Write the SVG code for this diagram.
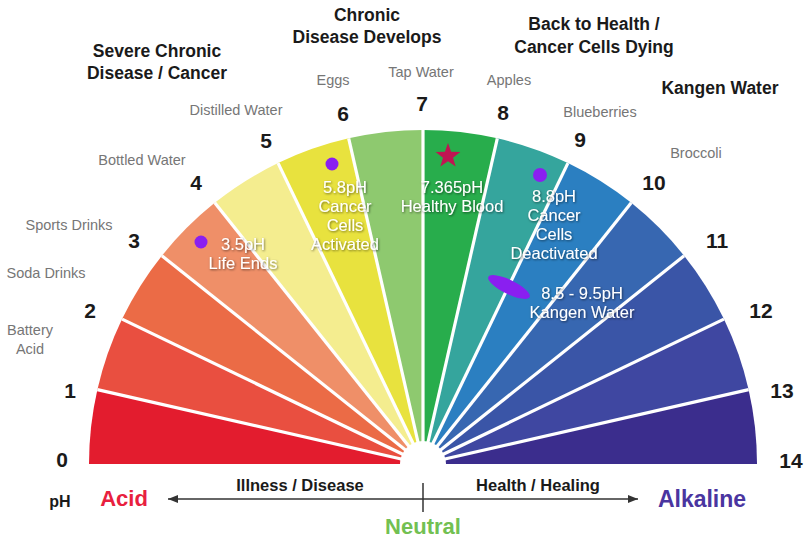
<svg xmlns="http://www.w3.org/2000/svg" width="805" height="540" viewBox="0 0 805 540">
<defs>
<style>
.num{font-family:"Liberation Sans",Arial,sans-serif;font-weight:bold;font-size:21px;fill:#1a1a1a;text-anchor:middle}
.food{font-family:"Liberation Sans",Arial,sans-serif;font-size:14.5px;fill:#767676;text-anchor:middle}
.head{font-family:"Liberation Sans",Arial,sans-serif;font-weight:bold;font-size:17.5px;fill:#1a1a1a;text-anchor:middle}
.in{font-family:"Liberation Sans",Arial,sans-serif;font-size:16.5px;fill:#ffffff;text-anchor:middle;filter:url(#sh)}
.sep{stroke:#ffffff;stroke-width:3.2}
.dot{fill:#8a1ff0}
.axis{font-family:"Liberation Sans",Arial,sans-serif;font-weight:bold;text-anchor:middle}
</style>
<filter id="sh" x="-20%" y="-40%" width="140%" height="180%">
<feDropShadow dx="0.8" dy="1" stdDeviation="0.9" flood-color="#000" flood-opacity="0.55"/>
</filter>
<marker id="ah" viewBox="0 0 10 8" refX="10" refY="4" markerWidth="10" markerHeight="8" markerUnits="userSpaceOnUse" orient="auto-start-reverse">
<path d="M0,0 L10,4 L0,8 Z" fill="#333"/>
</marker>
</defs>
<rect width="805" height="540" fill="#ffffff"/>

<g id="segments">
<path id="seg0" d="M423,464 L89,464 A334,334 0 0 1 97.37,389.68 Z" fill="#e31c2e"/>
<path id="seg1" d="M423,464 L97.37,389.68 A334,334 0 0 1 122.08,319.08 Z" fill="#e94f40"/>
<path id="seg2" d="M423,464 L122.08,319.08 A334,334 0 0 1 161.87,255.75 Z" fill="#eb6b46"/>
<path id="seg3" d="M423,464 L161.87,255.75 A334,334 0 0 1 214.75,202.87 Z" fill="#ef8f68"/>
<path id="seg4" d="M423,464 L214.75,202.87 A334,334 0 0 1 278.08,163.08 Z" fill="#f4ed8f"/>
<path id="seg5" d="M423,464 L278.08,163.08 A334,334 0 0 1 348.68,138.37 Z" fill="#e8e23e"/>
<path id="seg6" d="M423,464 L348.68,138.37 A334,334 0 0 1 423,130 Z" fill="#8ec96f"/>
<path id="seg7" d="M423,464 L423,130 A334,334 0 0 1 497.32,138.37 Z" fill="#28ad4c"/>
<path id="seg8" d="M423,464 L497.32,138.37 A334,334 0 0 1 567.92,163.08 Z" fill="#35a59d"/>
<path id="seg9" d="M423,464 L567.92,163.08 A334,334 0 0 1 631.25,202.87 Z" fill="#2b7fc1"/>
<path id="seg10" d="M423,464 L631.25,202.87 A334,334 0 0 1 684.13,255.75 Z" fill="#3767b1"/>
<path id="seg11" d="M423,464 L684.13,255.75 A334,334 0 0 1 723.92,319.08 Z" fill="#3a55a7"/>
<path id="seg12" d="M423,464 L723.92,319.08 A334,334 0 0 1 748.63,389.68 Z" fill="#3f47a1"/>
<path id="seg13" d="M423,464 L748.63,389.68 A334,334 0 0 1 757,464 Z" fill="#3b2d8d"/>
</g>

<g id="separators">
<line class="sep" x1="423" y1="464" x2="97.37" y2="389.68"/>
<line class="sep" x1="423" y1="464" x2="122.08" y2="319.08"/>
<line class="sep" x1="423" y1="464" x2="161.87" y2="255.75"/>
<line class="sep" x1="423" y1="464" x2="214.75" y2="202.87"/>
<line class="sep" x1="423" y1="464" x2="278.08" y2="163.08"/>
<line class="sep" x1="423" y1="464" x2="348.68" y2="138.37"/>
<line class="sep" x1="423" y1="464" x2="423" y2="130"/>
<line class="sep" x1="423" y1="464" x2="497.32" y2="138.37"/>
<line class="sep" x1="423" y1="464" x2="567.92" y2="163.08"/>
<line class="sep" x1="423" y1="464" x2="631.25" y2="202.87"/>
<line class="sep" x1="423" y1="464" x2="684.13" y2="255.75"/>
<line class="sep" x1="423" y1="464" x2="723.92" y2="319.08"/>
<line class="sep" x1="423" y1="464" x2="748.63" y2="389.68"/>
<circle cx="423" cy="464" r="23" fill="#ffffff"/>
<rect x="80" y="465" width="690" height="4" fill="#ffffff"/>
</g>

<g id="numbers">
<text class="num" x="62" y="467">0</text>
<text class="num" x="70" y="398">1</text>
<text class="num" x="90" y="318">2</text>
<text class="num" x="134" y="248">3</text>
<text class="num" x="196" y="190">4</text>
<text class="num" x="266" y="148">5</text>
<text class="num" x="343" y="121">6</text>
<text class="num" x="422" y="111">7</text>
<text class="num" x="503" y="120">8</text>
<text class="num" x="580" y="147">9</text>
<text class="num" x="654" y="190">10</text>
<text class="num" x="717" y="248">11</text>
<text class="num" x="761" y="318">12</text>
<text class="num" x="782" y="398">13</text>
<text class="num" x="791" y="468">14</text>
</g>

<g id="foods">
<text class="food" x="30" y="335">Battery</text>
<text class="food" x="30" y="354">Acid</text>
<text class="food" x="46" y="278">Soda Drinks</text>
<text class="food" x="69" y="230">Sports Drinks</text>
<text class="food" x="142" y="165">Bottled Water</text>
<text class="food" x="236" y="115">Distilled Water</text>
<text class="food" x="333" y="85">Eggs</text>
<text class="food" x="421" y="77">Tap Water</text>
<text class="food" x="509" y="85">Apples</text>
<text class="food" x="600" y="117">Blueberries</text>
<text class="food" x="696" y="158">Broccoli</text>
</g>

<g id="headings">
<text class="head" x="157" y="57">Severe Chronic</text>
<text class="head" x="157" y="79">Disease / Cancer</text>
<text class="head" x="367" y="21">Chronic</text>
<text class="head" x="367" y="43">Disease Develops</text>
<text class="head" x="594" y="30">Back to Health /</text>
<text class="head" x="594" y="53">Cancer Cells Dying</text>
<text class="head" x="720" y="94">Kangen Water</text>
</g>

<g id="annotations">
<circle class="dot" cx="201" cy="242" r="6.5"/>
<text class="in" x="243" y="250">3.5pH</text>
<text class="in" x="243" y="269">Life Ends</text>

<circle class="dot" cx="332" cy="164" r="6.5"/>
<text class="in" x="345" y="193">5.8pH</text>
<text class="in" x="345" y="212">Cancer</text>
<text class="in" x="345" y="231">Cells</text>
<text class="in" x="345" y="250">Activated</text>

<path d="M448,143 L451.12,151.71 L460.36,151.98 L453.04,157.64 L455.64,166.52 L448,161.3 L440.36,166.52 L442.96,157.64 L435.64,151.98 L444.88,151.71 Z" fill="#c01552"/>
<text class="in" x="452" y="193">7.365pH</text>
<text class="in" x="452" y="212">Healthy Blood</text>

<circle class="dot" cx="540" cy="175" r="7"/>
<text class="in" x="554" y="202">8.8pH</text>
<text class="in" x="554" y="221">Cancer</text>
<text class="in" x="554" y="240">Cells</text>
<text class="in" x="554" y="259">Deactivated</text>

<ellipse class="dot" cx="509" cy="287" rx="23" ry="7" transform="rotate(26 509 287)"/>
<text class="in" x="582" y="299">8.5 - 9.5pH</text>
<text class="in" x="582" y="318">Kangen Water</text>
</g>

<g id="axis">
<line x1="168" y1="499" x2="638" y2="499" stroke="#333" stroke-width="1.5" marker-start="url(#ah)" marker-end="url(#ah)"/>
<line x1="423" y1="483" x2="423" y2="512" stroke="#333" stroke-width="1.5"/>
<text class="axis" x="60" y="507" font-size="16" fill="#1a1a1a">pH</text>
<text class="axis" x="124" y="506" font-size="22" fill="#e8203e">Acid</text>
<text class="axis" x="300" y="491" font-size="16.5" fill="#1a1a1a">Illness / Disease</text>
<text class="axis" x="538" y="491" font-size="16.5" fill="#1a1a1a">Health / Healing</text>
<text class="axis" x="702" y="507" font-size="23" fill="#4a35a0">Alkaline</text>
<text class="axis" x="423" y="534" font-size="22" fill="#72c052">Neutral</text>
</g>
</svg>
